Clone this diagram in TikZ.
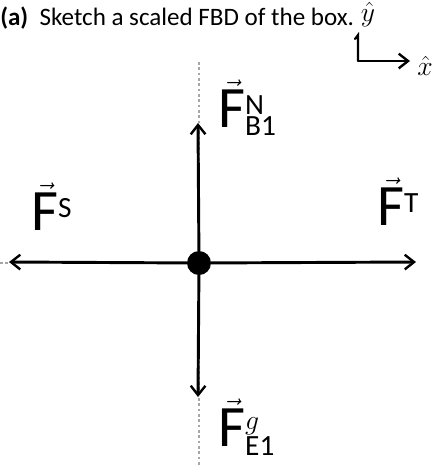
\documentclass[tikz,border=0pt]{standalone}
\usepackage{fontspec}
\setmainfont{Carlito}
\usetikzlibrary{arrows.meta, calc}

\begin{document}
\begin{tikzpicture}[x=0.75pt,y=-0.75pt,>={Straight Barb[length=7pt,width=11pt,line width=1.8pt]}]
\tikzset{force/.style={line width=2.2pt,->,line cap=round},guide/.style={gray!70,line width=0.9pt,dash pattern=on 2pt off 2pt},hand/.style={inner sep=0pt,font=\fontsize{44}{46}\selectfont}}
\useasboundingbox (0,0) rectangle (437,465);
\node[anchor=base west,inner sep=0pt,font=\fontsize{18.8}{22}\selectfont] (title) at (0,25){\textbf{(a)}\ \ Sketch a scaled FBD of the box.};
\draw[guide] (199,62)--(199,465);\draw[guide] (0,263)--(12,263);
\node[circle,fill=black,inner sep=0pt,minimum size=18] (box) at (199,263){};
\coordinate (up) at (198,123);\coordinate (down) at (198,397);\coordinate (left) at (9,262);\coordinate (right) at (416,262);
\draw[force] (box)--(up);\draw[force] (box)--(down);\draw[force] (box)--(left);\draw[force] (box)--(right);
\node[hand,anchor=base west] (fn) at (218,127){$\vec{\mathrm{F}}^{\scriptscriptstyle\mathrm{N}}_{\scriptscriptstyle\mathrm{B1}}$};
\node[hand,anchor=base west] (fs) at (31,230){$\vec{\mathrm{F}}^{\scriptscriptstyle\mathrm{S}}$};
\node[hand,anchor=base west] (ft) at (377,225){$\vec{\mathrm{F}}^{\scriptscriptstyle\mathrm{T}}$};
\node[hand,anchor=base west] (fg) at (218,446){$\vec{\mathrm{F}}^{\scriptscriptstyle g}_{\scriptscriptstyle\mathrm{E1}}$};
% axes
\coordinate (o) at (358,61);\coordinate (ytip) at (358,35);\coordinate (xtip) at (410,61);
\draw[line width=1.6pt,line cap=round] (o)--(ytip)--++(-3,4);\draw[line width=1.6pt,->] (o)--(xtip);
\node[inner sep=0pt,font=\fontsize{20}{22}\selectfont] (yhat) at (368,15){$\hat{y}$};
\node[inner sep=0pt,font=\fontsize{20}{22}\selectfont] (xhat) at (425,66){$\hat{x}$};
\end{tikzpicture}
\end{document}
